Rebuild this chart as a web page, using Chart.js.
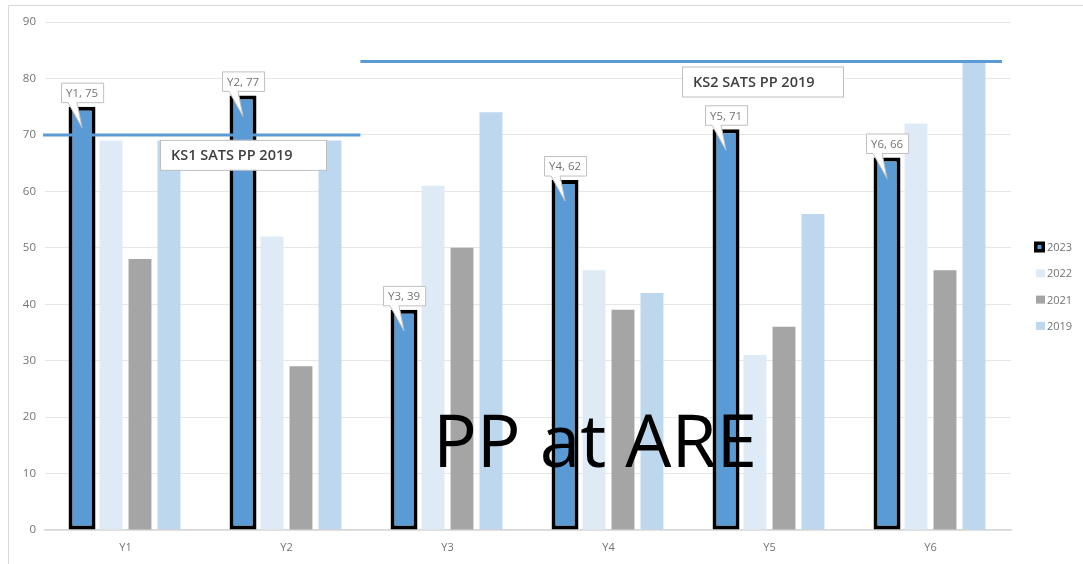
<!DOCTYPE html>
<html>
<head>
<meta charset="utf-8">
<script src="https://cdn.jsdelivr.net/npm/chart.js@4.4.1/dist/chart.umd.min.js"></script>
<style>
  html, body { margin: 0; padding: 0; background: #fff; overflow: hidden; }
  #wrap { position: relative; width: 1083px; height: 564px; }
  #frame { position: absolute; left: 8px; top: 5px; width: 1200px; height: 700px; border: 1px solid #d9d9d9; }
  #graficoPP { position: absolute; left: 0; top: 0; }
</style>
</head>
<body>
<div id="wrap">
  <div id="frame"></div>
  <canvas id="graficoPP" width="1083" height="564"></canvas>
</div>
<script>
// Dados do gráfico
const categories = ['Y1', 'Y2', 'Y3', 'Y4', 'Y5', 'Y6'];
const seriesNames = ['2023', '2022', '2021', '2019'];
const values2023 = [75, 77, 39, 62, 71, 66];
const values2022 = [69, 52, 61, 46, 31, 72];
const values2021 = [48, 29, 50, 39, 36, 46];
const values2019 = [69, 69, 74, 42, 56, 83];
const yTicks = [0, 10, 20, 30, 40, 50, 60, 70, 80, 90];

// Linhas de referência (SATS 2019)
const refLabels = ['KS1 SATS PP 2019', 'KS2 SATS PP 2019'];
const refValues = [70, 83];

const chartTitle = 'PP at ARE';

const FONT = '"Open Sans", "Liberation Sans", sans-serif';
const GREY_TEXT = '#737373';

// Plugin: linhas de referência, caixas de texto, rótulos e legenda
const extrasPlugin = {
  id: 'extras',
  afterDatasetsDraw(chart, args, opts) {
    const ctx = chart.ctx;
    const x = chart.scales.x;
    const y = chart.scales.y;

    // linhas horizontais
    ctx.save();
    ctx.strokeStyle = '#5b9bd5';
    ctx.lineWidth = 3;
    opts.lines.forEach((ln, i) => {
      const py = y.getPixelForValue(refValues[i]);
      ctx.beginPath();
      ctx.moveTo(x.getPixelForValue(ln.from), py);
      ctx.lineTo(x.getPixelForValue(ln.to), py);
      ctx.stroke();
    });

    // caixas de texto das linhas
    ctx.font = '600 14.5px ' + FONT;
    ctx.textBaseline = 'middle';
    opts.lines.forEach((ln, i) => {
      const py = y.getPixelForValue(refValues[i]);
      const bx = ln.boxLeft, by = py + 5, bw = ln.boxWidth, bh = 30;
      ctx.fillStyle = '#fff';
      ctx.fillRect(bx, by, bw, bh);
      ctx.strokeStyle = '#bfbfbf';
      ctx.lineWidth = 1;
      ctx.strokeRect(bx + 0.5, by + 0.5, bw, bh);
      ctx.fillStyle = '#404040';
      ctx.textAlign = 'left';
      ctx.fillText(refLabels[i], bx + 11, by + bh / 2 + 1);
    });

    // rótulos tipo balão nas barras de 2023
    ctx.font = '11.5px ' + FONT;
    ctx.textAlign = 'center';
    chart.getDatasetMeta(0).data.forEach((bar, i) => {
      const txt = categories[i] + ', ' + values2023[i];
      const w = ctx.measureText(txt).width + 10;
      const h = 20;
      const cx = bar.x;
      const top = bar.y - 4 - h;
      const left = Math.round(cx - w / 2) + 0.5;
      ctx.beginPath();
      ctx.moveTo(left, top + 0.5);
      ctx.lineTo(left + w, top + 0.5);
      ctx.lineTo(left + w, top + h);
      ctx.lineTo(cx - 5, top + h);
      ctx.lineTo(cx, bar.y + 21);
      ctx.lineTo(cx - 14, top + h);
      ctx.lineTo(left, top + h);
      ctx.closePath();
      ctx.fillStyle = '#fff';
      ctx.fill();
      ctx.strokeStyle = '#bfbfbf';
      ctx.lineWidth = 1;
      ctx.stroke();
      ctx.fillStyle = GREY_TEXT;
      ctx.fillText(txt, cx, top + h / 2 + 1);
    });

    // texto grande
    const area = chart.chartArea;
    ctx.font = '73px ' + FONT;
    ctx.fillStyle = '#000';
    ctx.textAlign = 'center';
    ctx.textBaseline = 'alphabetic';
    ctx.fillText(chartTitle, area.left + 550, area.bottom - 63);

    // legenda
    ctx.font = '11px ' + FONT;
    ctx.textAlign = 'left';
    ctx.textBaseline = 'middle';
    chart.data.datasets.forEach((ds, i) => {
      const ly = 247 + i * 26.3;
      if (i === 0) {
        ctx.fillStyle = '#000';
        ctx.fillRect(1034, ly - 5.5, 11, 11);
        ctx.fillStyle = ds.backgroundColor;
        ctx.fillRect(1037.5, ly - 2, 4, 4);
      } else {
        ctx.fillStyle = ds.backgroundColor;
        ctx.fillRect(1036, ly - 4, 9, 8);
      }
      ctx.fillStyle = GREY_TEXT;
      ctx.fillText(ds.label, 1047, ly + 1);
    });
    ctx.restore();
  }
};

const data = {
  labels: categories,
  datasets: [
    {
      label: seriesNames[0],
      data: values2023,
      backgroundColor: '#5b9bd5',
      borderColor: '#000',
      borderWidth: 4,
      borderSkipped: false,
      barPercentage: 0.93
    },
    { label: seriesNames[1], data: values2022, backgroundColor: '#deebf7' },
    { label: seriesNames[2], data: values2021, backgroundColor: '#a5a5a5' },
    { label: seriesNames[3], data: values2019, backgroundColor: '#bdd7ee' }
  ]
};

const config = {
  type: 'bar',
  data: data,
  options: {
    responsive: false,
    animation: false,
    layout: { padding: { left: 0, top: 22, right: 72, bottom: 0 } },
    datasets: {
      bar: { categoryPercentage: 0.72, barPercentage: 0.79 }
    },
    plugins: {
      legend: { display: false },
      tooltip: { enabled: false },
      extras: {
        lines: [
          { from: -0.512, to: 1.459, boxLeft: 160, boxWidth: 166 },
          { from: 1.459, to: 5.444, boxLeft: 682, boxWidth: 161 }
        ]
      }
    },
    scales: {
      x: {
        grid: { display: false, drawTicks: false },
        border: { display: true, color: '#d9d9d9', width: 1.5 },
        ticks: { color: GREY_TEXT, font: { family: FONT, size: 11 }, padding: 11 },
        afterFit(scale) { scale.height = 34; scale.paddingLeft = 0; scale.paddingRight = 0; }
      },
      y: {
        min: 0,
        max: 90,
        afterBuildTicks(scale) { scale.ticks = yTicks.map(v => ({ value: v })); },
        grid: { color: '#e6e6e6', drawTicks: false },
        border: { display: false },
        ticks: { color: GREY_TEXT, font: { family: FONT, size: 11.5 }, padding: 9 },
        afterFit(scale) { scale.width = 45; scale.paddingTop = 0; scale.paddingBottom = 0; }
      }
    }
  },
  plugins: [extrasPlugin]
};

const ctx = document.getElementById('graficoPP').getContext('2d');
const myChart = new Chart(ctx, config);
</script>
</body>
</html>
